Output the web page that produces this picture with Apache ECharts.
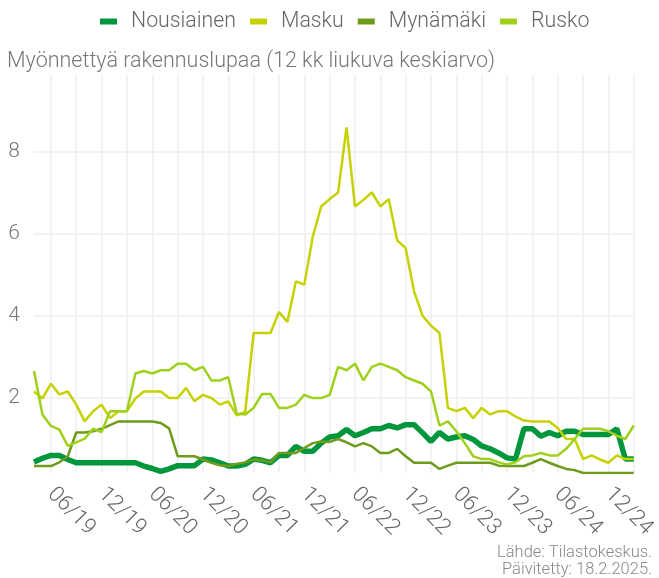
<!DOCTYPE html>
<html>
<head>
<meta charset="utf-8">
<script src="https://cdn.jsdelivr.net/npm/echarts@6/dist/echarts.min.js"></script>
<style>
html,body{margin:0;padding:0;background:#fff;}
#chart{width:659px;height:578px;}
</style>
</head>
<body>
<div id="chart"></div>
<script>
var categories = [
  '04/19','05/19','06/19','07/19','08/19','09/19','10/19','11/19','12/19',
  '01/20','02/20','03/20','04/20','05/20','06/20','07/20','08/20','09/20','10/20','11/20','12/20',
  '01/21','02/21','03/21','04/21','05/21','06/21','07/21','08/21','09/21','10/21','11/21','12/21',
  '01/22','02/22','03/22','04/22','05/22','06/22','07/22','08/22','09/22','10/22','11/22','12/22',
  '01/23','02/23','03/23','04/23','05/23','06/23','07/23','08/23','09/23','10/23','11/23','12/23',
  '01/24','02/24','03/24','04/24','05/24','06/24','07/24','08/24','09/24','10/24','11/24','12/24',
  '01/25','02/25','03/25'
];
var seriesNames = ['Nousiainen', 'Masku', 'Mynämäki', 'Rusko'];
var nousiainen = [
  0.43,0.52,0.59,0.59,0.49,0.41,0.41,0.41,0.41,0.41,0.41,0.41,
  0.41,0.33,0.27,0.20,0.26,0.34,0.34,0.34,0.50,0.48,0.41,0.33,
  0.33,0.37,0.50,0.47,0.41,0.59,0.59,0.81,0.69,0.69,0.89,1.04,
  1.07,1.22,1.07,1.15,1.24,1.24,1.32,1.26,1.34,1.34,1.14,0.93,
  1.15,0.99,1.04,1.07,0.98,0.82,0.75,0.65,0.53,0.50,1.24,1.24,
  1.06,1.15,1.07,1.18,1.18,1.10,1.10,1.10,1.10,1.24,0.50,0.50
];
var masku = [
  2.15,1.98,2.34,2.08,2.15,1.83,1.42,1.67,1.83,1.50,1.67,1.67,
  1.98,2.15,2.15,2.15,1.99,1.99,2.24,1.91,2.07,1.99,1.83,1.91,
  1.57,1.65,3.58,3.58,3.58,4.09,3.85,4.84,4.76,5.93,6.67,6.85,
  7.01,8.60,6.67,6.83,7.01,6.67,6.85,5.84,5.65,4.59,4.00,3.76,
  3.58,1.75,1.67,1.75,1.50,1.75,1.59,1.67,1.67,1.54,1.44,1.42,
  1.42,1.42,1.26,0.99,0.99,0.50,0.59,0.49,0.41,0.59,0.50,0.50
];
var mynamaki = [
  0.33,0.33,0.33,0.42,0.57,1.15,1.15,1.18,1.24,1.33,1.42,1.42,
  1.42,1.42,1.42,1.38,1.25,0.57,0.57,0.57,0.49,0.41,0.35,0.33,
  0.38,0.42,0.49,0.47,0.42,0.65,0.65,0.65,0.77,0.89,0.93,0.92,
  0.99,0.91,0.81,0.89,0.81,0.65,0.65,0.75,0.57,0.41,0.41,0.41,
  0.26,0.34,0.41,0.41,0.41,0.41,0.41,0.34,0.33,0.33,0.33,0.41,
  0.50,0.41,0.33,0.26,0.23,0.16,0.16,0.16,0.16,0.16,0.16,0.16
];
var rusko = [
  2.65,1.59,1.31,1.22,0.82,0.91,1.00,1.24,1.16,1.67,1.67,1.67,
  2.59,2.65,2.59,2.67,2.67,2.83,2.83,2.67,2.75,2.42,2.42,2.50,
  1.61,1.59,1.75,2.09,2.09,1.75,1.75,1.83,2.07,1.99,1.99,2.07,
  2.75,2.67,2.83,2.42,2.75,2.83,2.75,2.67,2.50,2.42,2.34,2.15,
  1.32,1.42,1.18,0.89,0.57,0.50,0.50,0.42,0.37,0.42,0.57,0.59,
  0.65,0.59,0.59,0.75,0.99,1.24,1.24,1.24,1.18,1.07,0.99,1.32
];
var titleText = 'Myönnettyä rakennuslupaa (12 kk liukuva keskiarvo)';
var sourceText = 'Lähde: Tilastokeskus.';
var updatedText = 'Päivitetty: 18.2.2025.';

var colors = ['#00963c', '#c5d200', '#6e9b1b', '#9fd11c'];
var widths = [5.5, 2.5, 2.5, 2.5];
var values = [nousiainen, masku, mynamaki, rusko];
var FONT = 'Roboto';

var chart = echarts.init(document.getElementById('chart'), null, {renderer: 'canvas'});
var option = {
  backgroundColor: '#ffffff',
  animation: false,
  color: colors,
  textStyle: {fontFamily: FONT},
  title: {
    text: titleText,
    left: 2,
    top: 46,
    textStyle: {fontFamily: FONT, fontSize: 21.5, fontWeight: 300, color: '#777777'}
  },
  legend: {
    top: 6,
    left: 95,
    icon: 'rect',
    itemWidth: 17,
    itemHeight: 6,
    itemGap: 14,
    textStyle: {fontFamily: FONT, fontSize: 21.3, fontWeight: 300, color: '#666666', padding: [0, 0, 0, 9]},
    data: seriesNames
  },
  grid: {left: 34, right: 19, top: 75, bottom: 105, containLabel: false},
  xAxis: {
    type: 'category',
    data: categories,
    boundaryGap: false,
    axisLine: {show: false},
    axisTick: {show: false},
    splitLine: {
      show: true,
      interval: function (idx) { return idx % 3 === 2; },
      lineStyle: {color: '#f2f2f2', width: 2}
    },
    axisLabel: {
      interval: function (idx) { return idx % 6 === 2; },
      rotate: -45,
      margin: 18,
      fontFamily: FONT,
      fontSize: 22,
      fontWeight: 300,
      color: '#666666'
    }
  },
  yAxis: {
    type: 'value',
    min: 0.16,
    max: 9.88,
    axisLine: {show: false},
    axisTick: {show: false},
    splitLine: {
      show: true,
      showMinLine: false,
      showMaxLine: false,
      lineStyle: {color: '#f2f2f2', width: 2}
    },
    axisLabel: {
      showMinLabel: false,
      showMaxLabel: false,
      margin: 14,
      fontFamily: FONT,
      fontSize: 21,
      fontWeight: 300,
      color: '#777777'
    }
  },
  graphic: [
    {type: 'text', right: 7, top: 544, style: {text: sourceText, font: '300 16.5px Roboto', fill: '#888888', textAlign: 'right'}},
    {type: 'text', right: 7, top: 561, style: {text: updatedText, font: '300 16.5px Roboto', fill: '#888888', textAlign: 'right'}}
  ],
  series: seriesNames.map(function (name, i) {
    return {
      name: name,
      type: 'line',
      data: values[i],
      showSymbol: false,
      symbol: 'none',
      lineStyle: {width: widths[i], color: colors[i]},
      itemStyle: {color: colors[i]}
    };
  })
};
chart.setOption(option);
</script>
</body>
</html>
